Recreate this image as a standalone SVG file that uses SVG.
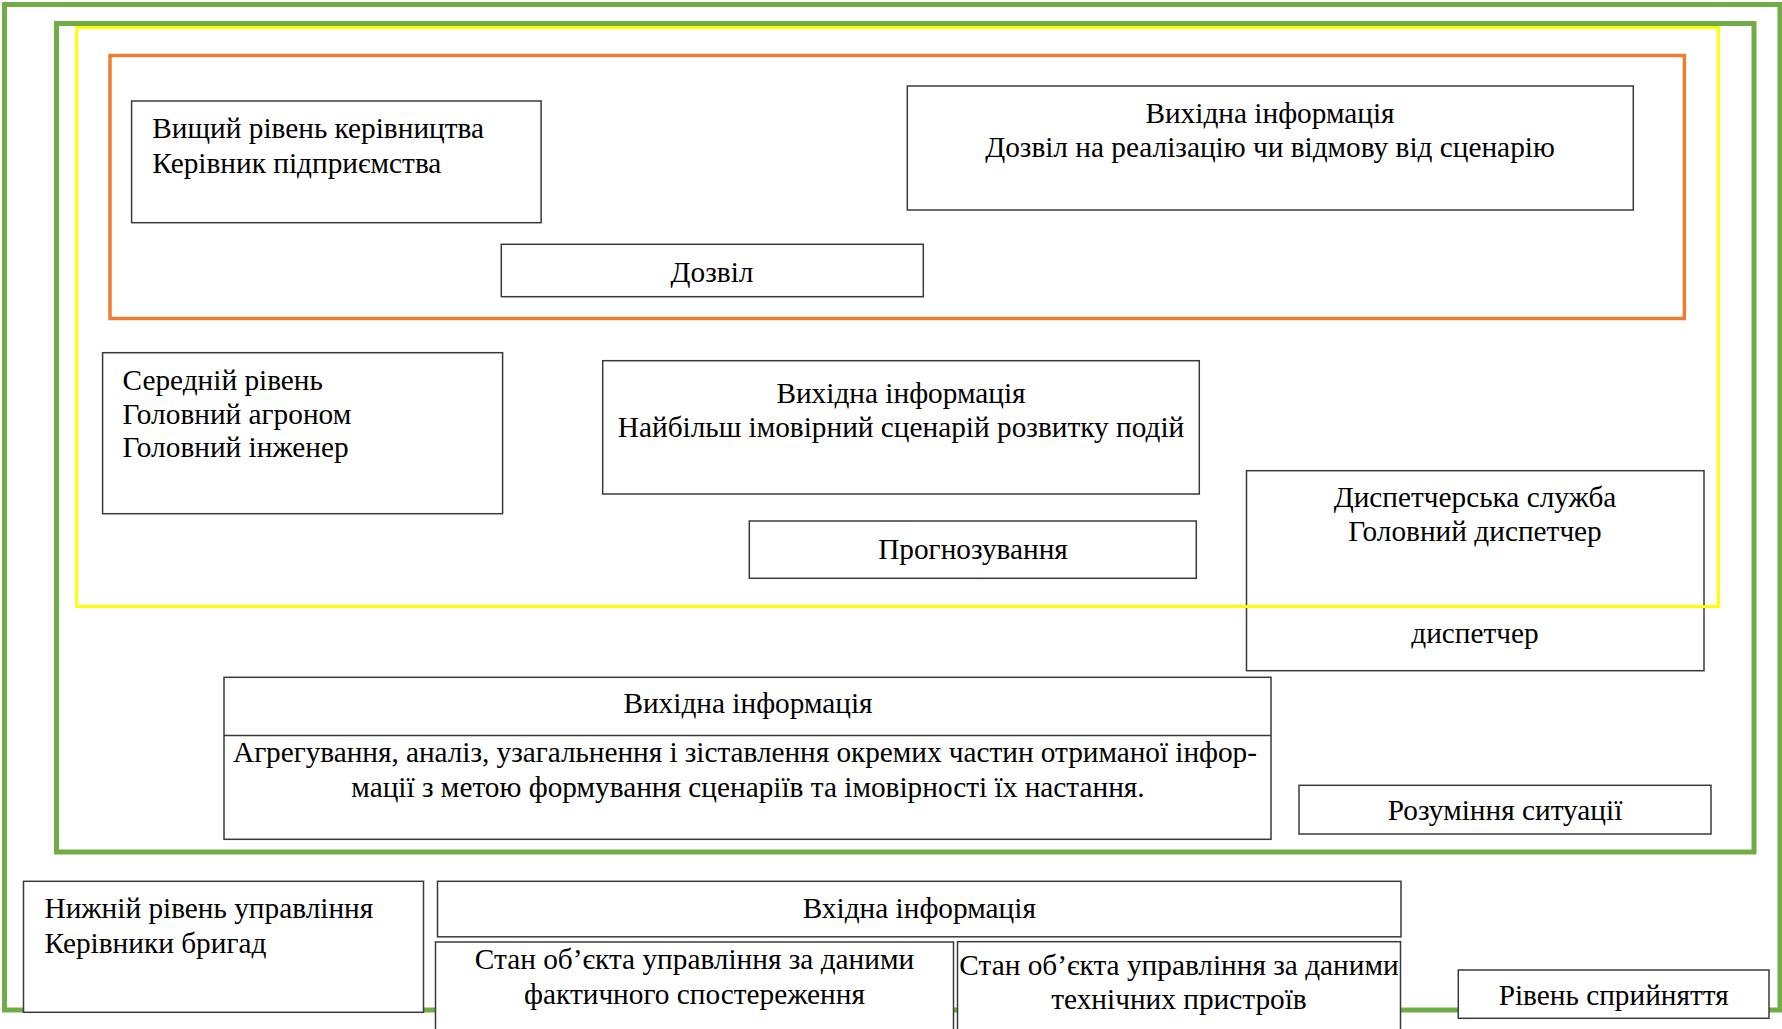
<svg xmlns="http://www.w3.org/2000/svg" width="1782" height="1029" viewBox="0 0 1782 1029">
<style>
.frame{fill:none}
.green{stroke:#70AD47;stroke-width:5}
.orange{stroke:#ED7D31;stroke-width:3.5}
.yellow{stroke:#FFFF00;stroke-width:3}
.box{fill:#fff;stroke:#3a3a3a;stroke-width:1.5}
.line{stroke:#3a3a3a;stroke-width:1.5}
text{font-family:"Liberation Serif","Times New Roman",serif;font-size:29.3px;fill:#000}
.c{text-anchor:middle}
</style>
<rect width="1782" height="1029" fill="#fff"/>
<g id="frames">
<rect class="frame green" x="4.5" y="4.5" width="1775.5" height="1005.5"/>
<rect class="frame green" x="56.5" y="23.5" width="1697.5" height="828.5"/>
<rect class="frame orange" x="110" y="55.5" width="1574.4" height="263"/>
</g>
<g id="connectors"/>
<g id="top-management">
<rect class="box" x="131.6" y="101" width="409.5" height="121.7"/>
<text x="152.3" y="137.7">Вищий рівень керівництва</text>
<text x="152.3" y="173.3">Керівник підприємства</text>
</g>
<g id="permission">
<rect class="box" x="501.3" y="244.3" width="422" height="52.4"/>
<text class="c" x="712" y="282">Дозвіл</text>
</g>
<g id="output-top">
<rect class="box" x="907.3" y="86" width="726" height="124"/>
<text class="c" x="1270" y="122.7">Вихідна інформація</text>
<text class="c" x="1270" y="156.7">Дозвіл на реалізацію чи відмову від сценарію</text>
</g>
<g id="middle-level">
<rect class="box" x="102.6" y="352.7" width="400" height="161"/>
<text x="122.5" y="390">Середній рівень</text>
<text x="122.5" y="423.5">Головний агроном</text>
<text x="122.5" y="457">Головний інженер</text>
</g>
<g id="output-middle">
<rect class="box" x="602.7" y="360.7" width="596.6" height="133.3"/>
<text class="c" x="901" y="402.7">Вихідна інформація</text>
<text class="c" x="901" y="436.7">Найбільш імовірний сценарій розвитку подій</text>
</g>
<g id="forecasting">
<rect class="box" x="749.3" y="521" width="447" height="57.3"/>
<text class="c" x="973" y="559">Прогнозування</text>
</g>
<g id="dispatch">
<rect class="box" x="1246.5" y="470.7" width="457.5" height="200"/>
<text class="c" x="1475" y="507.3">Диспетчерська служба</text>
<text class="c" x="1475" y="541">Головний диспетчер</text>
<text class="c" x="1475" y="642.7">диспетчер</text>
</g>
<g id="output-aggregation">
<rect class="box" x="224" y="677.3" width="1047" height="162"/>
<line class="line" x1="224" y1="735.5" x2="1271" y2="735.5"/>
<text class="c" x="748" y="713.3">Вихідна інформація</text>
<text x="233" y="761.5" textLength="1024" lengthAdjust="spacing">Агрегування, аналіз, узагальнення і зіставлення окремих частин отриманої інфор-</text>
<text class="c" x="748" y="796.5">мації з метою формування сценаріїв та імовірності їх настання.</text>
</g>
<g id="understanding">
<rect class="box" x="1299" y="785.3" width="412" height="48.7"/>
<text class="c" x="1505" y="820">Розуміння ситуації</text>
</g>
<g id="lower-level">
<rect class="box" x="23.5" y="881.3" width="400" height="131"/>
<text x="44.5" y="918">Нижній рівень управління</text>
<text x="44.5" y="953">Керівники бригад</text>
</g>
<g id="input-info">
<rect class="box" x="437.5" y="881.3" width="963.5" height="55.5"/>
<text class="c" x="919.3" y="918.3">Вхідна інформація</text>
</g>
<g id="state-observation">
<rect class="box" x="435.5" y="942" width="518" height="100"/>
<text class="c" x="694.5" y="969">Стан об’єкта управління за даними</text>
<text class="c" x="694.5" y="1004">фактичного спостереження</text>
</g>
<g id="state-devices">
<rect class="box" x="957.5" y="941.7" width="443" height="100"/>
<text class="c" x="1179" y="975">Стан об’єкта управління за даними</text>
<text class="c" x="1179" y="1009">технічних пристроїв</text>
</g>
<g id="perception">
<rect class="box" x="1458.3" y="970" width="310.7" height="48.3"/>
<text class="c" x="1613.7" y="1004.5">Рівень сприйняття</text>
</g>
<g id="yellow-frame">
<rect class="frame yellow" x="76.7" y="27.5" width="1641.7" height="579"/>
</g>
</svg>
